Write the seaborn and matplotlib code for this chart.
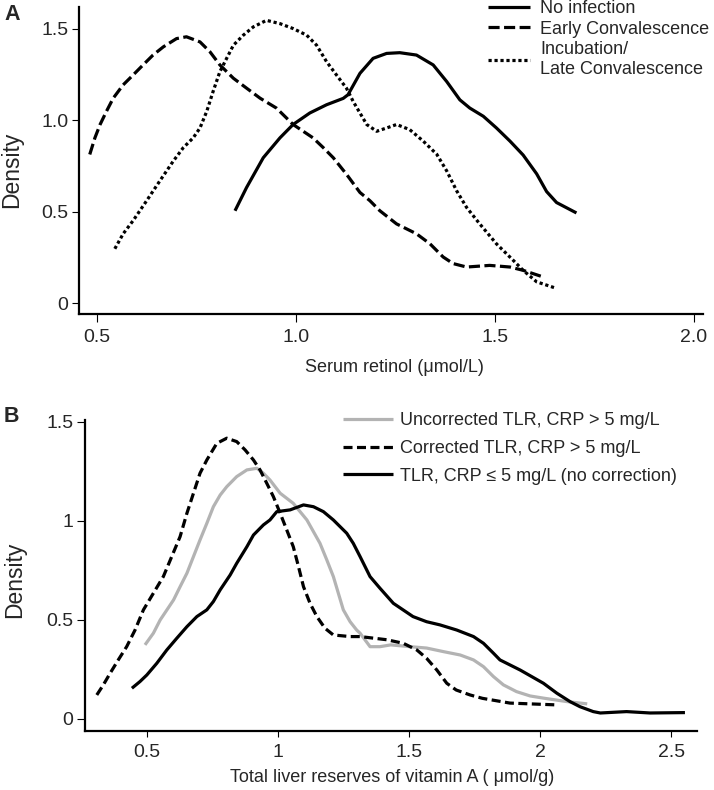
import numpy as np
import pandas as pd
import matplotlib
matplotlib.use("Agg")
import matplotlib.pyplot as plt
import seaborn as sns

sns.set_theme(style="white")
plt.rcParams['font.family'] = ['Liberation Sans', 'DejaVu Sans']
plt.rcParams['lines.scale_dashes'] = False

# ---------------- Panel A data ----------------
a_labels = ["No infection", "Early Convalescence", "Incubation/\nLate Convalescence"]
a_none_x = [0.847, 0.876, 0.918, 0.96, 0.993, 1.035, 1.077, 1.119, 1.131, 1.161, 1.194, 1.228,
            1.261, 1.303, 1.345, 1.379, 1.412, 1.437, 1.471, 1.504, 1.538, 1.571, 1.605,
            1.63, 1.655, 1.705]
a_none_y = [0.505, 0.632, 0.795, 0.904, 0.977, 1.04, 1.085, 1.12, 1.14, 1.257, 1.339, 1.366,
            1.37, 1.357, 1.303, 1.212, 1.112, 1.067, 1.022, 0.958, 0.886, 0.81, 0.707,
            0.61, 0.55, 0.493]
a_early_x = [0.482, 0.495, 0.508, 0.524, 0.541, 0.566, 0.591, 0.616, 0.641, 0.667, 0.70, 0.725,
             0.759, 0.784, 0.809, 0.843, 0.876, 0.91, 0.951, 0.993, 1.043, 1.069, 1.094,
             1.127, 1.161, 1.186, 1.211, 1.253, 1.303, 1.337, 1.37, 1.395, 1.429, 1.487,
             1.538, 1.571, 1.621]
a_early_y = [0.813, 0.904, 0.977, 1.049, 1.121, 1.194, 1.248, 1.303, 1.357, 1.402, 1.447, 1.457,
             1.429, 1.375, 1.303, 1.23, 1.176, 1.121, 1.067, 0.977, 0.904, 0.85, 0.795,
             0.705, 0.605, 0.56, 0.505, 0.433, 0.379, 0.324, 0.252, 0.216, 0.197, 0.206,
             0.197, 0.179, 0.143]
a_incub_x = [0.545, 0.566, 0.591, 0.625, 0.658, 0.692, 0.717, 0.742, 0.759, 0.776, 0.792, 0.809,
             0.826, 0.843, 0.868, 0.893, 0.926, 0.96, 0.993, 1.027, 1.052, 1.077, 1.102,
             1.127, 1.144, 1.161, 1.178, 1.203, 1.228, 1.253, 1.286, 1.32, 1.354, 1.379,
             1.404, 1.429, 1.462, 1.504, 1.546, 1.571, 1.605, 1.655]
a_incub_y = [0.297, 0.379, 0.451, 0.56, 0.668, 0.777, 0.85, 0.904, 0.958, 1.049, 1.158, 1.266,
             1.339, 1.411, 1.466, 1.511, 1.547, 1.529, 1.502, 1.466, 1.411, 1.321, 1.248,
             1.176, 1.103, 1.04, 0.977, 0.94, 0.958, 0.977, 0.949, 0.886, 0.814, 0.723,
             0.614, 0.523, 0.433, 0.324, 0.234, 0.179, 0.116, 0.08]
a_xticks = [0.5, 1.0, 1.5, 2.0]
a_xticklabels = ["0.5", "1.0", "1.5", "2.0"]
a_yticks = [0, 0.5, 1.0, 1.5]
a_yticklabels = ["0", "0.5", "1.0", "1.5"]

# ---------------- Panel B data ----------------
b_labels = ["Uncorrected TLR, CRP > 5 mg/L", "Corrected TLR, CRP > 5 mg/L",
            "TLR, CRP \u2264 5 mg/L (no correction)"]
b_unc_x = [0.492, 0.524, 0.55, 0.601, 0.626, 0.652, 0.677, 0.702, 0.728, 0.753, 0.779, 0.804,
           0.842, 0.881, 0.919, 0.944, 0.969, 1.008, 1.058, 1.11, 1.135, 1.16, 1.186, 1.211,
           1.23, 1.249, 1.275, 1.30, 1.313, 1.351, 1.389, 1.43, 1.504, 1.567, 1.631, 1.695,
           1.746, 1.784, 1.822, 1.86, 1.91, 1.962, 2.013, 2.10, 2.18]
b_unc_y = [0.374, 0.433, 0.50, 0.601, 0.668, 0.736, 0.82, 0.904, 0.988, 1.072, 1.131, 1.173,
           1.224, 1.258, 1.266, 1.241, 1.207, 1.14, 1.089, 1.005, 0.946, 0.887, 0.803, 0.719,
           0.635, 0.551, 0.491, 0.449, 0.433, 0.365, 0.365, 0.374, 0.365, 0.358, 0.34, 0.323,
           0.298, 0.264, 0.214, 0.172, 0.138, 0.116, 0.105, 0.088, 0.076]
b_cor_x = [0.308, 0.333, 0.359, 0.39, 0.422, 0.454, 0.486, 0.524, 0.562, 0.594, 0.626, 0.652,
           0.677, 0.702, 0.728, 0.766, 0.804, 0.842, 0.874, 0.906, 0.931, 0.957, 0.982,
           1.008, 1.033, 1.058, 1.078, 1.097, 1.122, 1.148, 1.179, 1.211, 1.275, 1.313,
           1.415, 1.478, 1.53, 1.567, 1.606, 1.644, 1.68, 1.733, 1.78, 1.885, 2.06]
b_cor_y = [0.121, 0.172, 0.231, 0.298, 0.365, 0.449, 0.551, 0.635, 0.719, 0.82, 0.921, 1.039,
           1.14, 1.241, 1.308, 1.392, 1.418, 1.401, 1.359, 1.308, 1.258, 1.19, 1.123,
           1.039, 0.955, 0.87, 0.769, 0.668, 0.584, 0.517, 0.458, 0.424, 0.416, 0.416,
           0.40, 0.382, 0.348, 0.306, 0.247, 0.18, 0.146, 0.121, 0.104, 0.08, 0.071]
b_tlr_x = [0.442, 0.473, 0.499, 0.537, 0.575, 0.613, 0.652, 0.69, 0.728, 0.753, 0.779, 0.817,
           0.842, 0.881, 0.906, 0.944, 0.969, 0.995, 1.046, 1.097, 1.135, 1.173, 1.211,
           1.262, 1.287, 1.313, 1.351, 1.389, 1.44, 1.515, 1.567, 1.618, 1.682, 1.746,
           1.784, 1.822, 1.847, 1.924, 2.013, 2.064, 2.115, 2.152, 2.203, 2.23, 2.33, 2.42,
           2.553]
b_tlr_y = [0.155, 0.189, 0.222, 0.281, 0.348, 0.407, 0.466, 0.517, 0.551, 0.593, 0.652, 0.727,
           0.786, 0.87, 0.929, 0.98, 1.005, 1.047, 1.056, 1.081, 1.072, 1.047, 1.005,
           0.938, 0.887, 0.82, 0.719, 0.66, 0.584, 0.517, 0.491, 0.475, 0.449, 0.416,
           0.382, 0.332, 0.298, 0.247, 0.18, 0.13, 0.087, 0.062, 0.037, 0.03, 0.037, 0.03,
           0.032]
b_xticks = [0.5, 1, 1.5, 2, 2.5]
b_xticklabels = ["0.5", "1", "1.5", "2", "2.5"]
b_yticks = [0, 0.5, 1, 1.5]
b_yticklabels = ["0", "0.5", "1", "1.5"]

W, H = 714, 790
fig = plt.figure(figsize=(W / 100, H / 100), dpi=100)
fig.patch.set_facecolor("white")


def px_axes(l, t, r, b):
    return fig.add_axes([l / W, 1 - b / H, (r - l) / W, (b - t) / H])


def draw(ax, x, y, color, lw, label, dashes=None):
    df = pd.DataFrame({"x": x, "y": y})
    sns.lineplot(data=df, x="x", y="y", ax=ax, color=color, lw=lw, label=label,
                 sort=False, estimator=None)
    line = ax.lines[-1]
    if dashes is not None:
        line.set_dashes(dashes)
    line.set_dash_capstyle("butt")
    line.set_solid_capstyle("butt")
    line.set_solid_joinstyle("round")
    line.set_dash_joinstyle("round")
    return line


def style_axes(ax, xt, xtl, yt, ytl, xlen, ylen):
    for s in ["top", "right"]:
        ax.spines[s].set_visible(False)
    for s in ["left", "bottom"]:
        ax.spines[s].set_linewidth(1.6)
        ax.spines[s].set_color("black")
    ax.set_xticks(xt)
    ax.set_xticklabels(xtl)
    ax.set_yticks(yt)
    ax.set_yticklabels(ytl)
    ax.tick_params(axis="x", direction="out", length=xlen, width=0.8, color="black",
                   labelsize=14, pad=5, bottom=True)
    ax.tick_params(axis="y", direction="out", length=ylen, width=0.8, color="black",
                   labelsize=14, pad=2.5, left=True)
    ax.grid(False)
    ax.set_facecolor("white")


# ---------------- Panel A ----------------
axA = px_axes(79, 7, 703, 314)
lA = [draw(axA, a_none_x, a_none_y, "black", 2.3, a_labels[0]),
      draw(axA, a_early_x, a_early_y, "black", 2.3, a_labels[1], (8, 3.2)),
      draw(axA, a_incub_x, a_incub_y, "black", 2.3, a_labels[2], (2.3, 2.0))]
axA.set_xlim(0.455, 2.023)
axA.set_ylim(-0.06, 1.62)
style_axes(axA, a_xticks, a_xticklabels, a_yticks, a_yticklabels, 5.8, 5.0)
axA.set_xlabel("Serum retinol (\u03bcmol/L)", fontsize=13)
axA.set_ylabel("Density", fontsize=16.5)
axA.xaxis.label.set_va("center")
axA.xaxis.set_label_coords((394 - 79) / 624, (314 - 367) / 307)
axA.yaxis.label.set_va("center")
axA.yaxis.set_label_coords((12 - 79) / 624, (314 - 170) / 307)
axA.legend(handles=lA, labels=a_labels, loc="upper left",
           bbox_to_anchor=(488 / W, 1.0), bbox_transform=fig.transFigure,
           frameon=False, fontsize=13, handlelength=2.33, handletextpad=0.55,
           labelspacing=0.2, borderpad=0, borderaxespad=0)
fig.text(4 / W, 1 - 14.5 / H, "A", fontsize=15.5, fontweight="bold", va="center", ha="left")

# ---------------- Panel B ----------------
axB = px_axes(85, 420, 697, 731)
lB = [draw(axB, b_unc_x, b_unc_y, "#b3b3b3", 2.3, b_labels[0]),
      draw(axB, b_cor_x, b_cor_y, "black", 2.3, b_labels[1], (6.5, 3.2)),
      draw(axB, b_tlr_x, b_tlr_y, "black", 2.3, b_labels[2])]
axB.set_xlim(0.263, 2.599)
axB.set_ylim(-0.061, 1.51)
style_axes(axB, b_xticks, b_xticklabels, b_yticks, b_yticklabels, 4.3, 5.8)
axB.set_xlabel("Total liver reserves of vitamin A ( \u03bcmol/g)", fontsize=13)
axB.set_ylabel("Density", fontsize=16.5)
axB.xaxis.label.set_va("center")
axB.xaxis.set_label_coords((392 - 85) / 612, (731 - 778) / 311)
axB.yaxis.label.set_va("center")
axB.yaxis.set_label_coords((15 - 85) / 612, (731 - 580) / 311)
axB.legend(handles=lB, labels=b_labels, loc="upper left",
           bbox_to_anchor=(343 / W, 1 - 412 / H), bbox_transform=fig.transFigure,
           frameon=False, fontsize=13, handlelength=2.77, handletextpad=0.4,
           labelspacing=0.6, borderpad=0, borderaxespad=0)
fig.text(4 / W, 1 - 416.5 / H, "B", fontsize=15.5, fontweight="bold", va="center", ha="left")

fig.savefig("out.png", dpi=100, facecolor="white")
